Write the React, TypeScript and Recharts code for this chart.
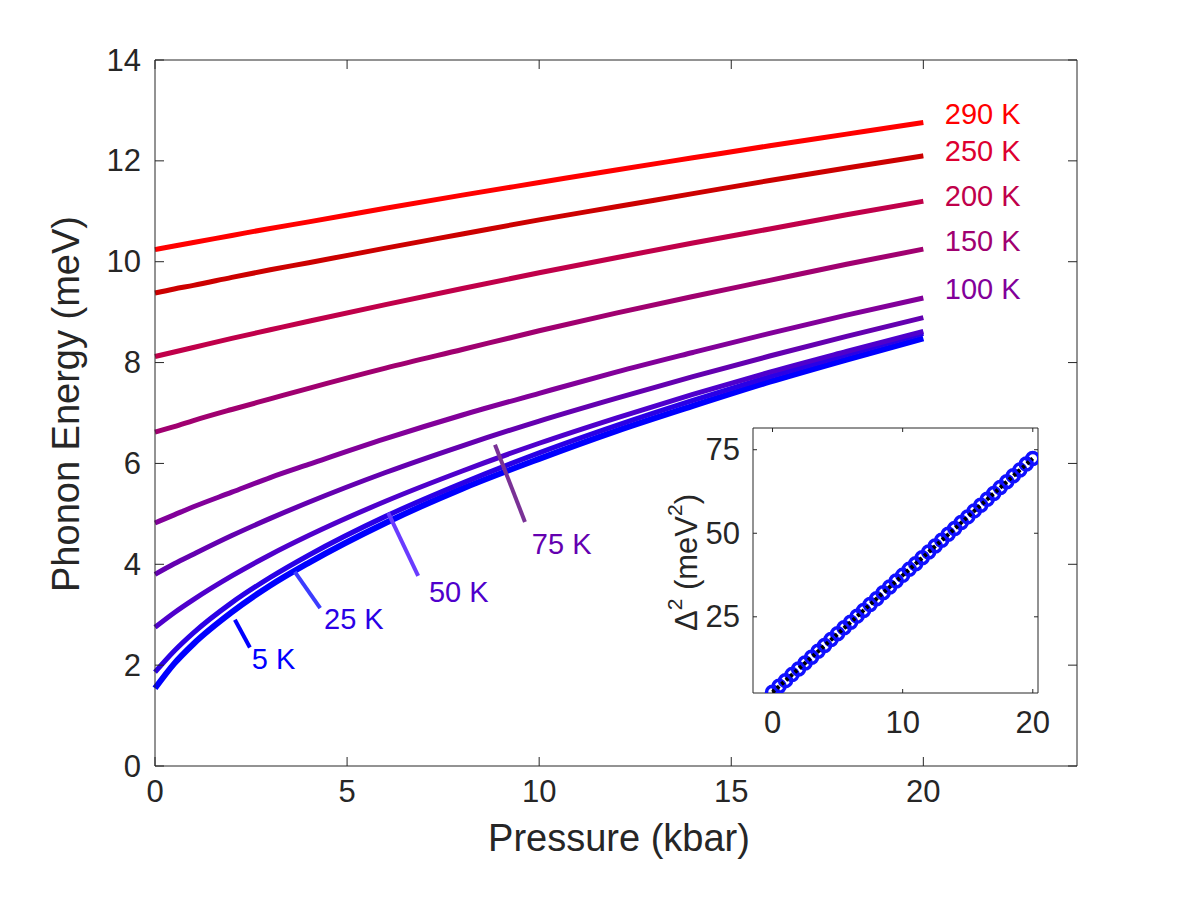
import React from "react";
import {
  LineChart,
  Line,
  XAxis,
  YAxis,
  ReferenceLine,
  ReferenceDot,
} from "recharts";

// pressure grid (kbar) shared by all temperature curves
const pressure = [0, 0.5, 1, 2, 3, 4, 6, 8, 10, 12, 14, 16, 18, 20];

// phonon energy (meV) per temperature
const e5K = [1.54, 2.03, 2.42, 3.05, 3.58, 4.03, 4.82, 5.5, 6.09, 6.64, 7.14, 7.62, 8.06, 8.48];
const e25K = [1.86, 2.28, 2.64, 3.24, 3.74, 4.18, 4.95, 5.61, 6.21, 6.75, 7.25, 7.72, 8.16, 8.58];
const e50K = [2.75, 3.04, 3.3, 3.77, 4.19, 4.57, 5.25, 5.85, 6.4, 6.9, 7.37, 7.81, 8.22, 8.62];
const e75K = [3.8, 4.01, 4.2, 4.57, 4.91, 5.23, 5.82, 6.35, 6.84, 7.29, 7.72, 8.13, 8.52, 8.89];
const e100K = [4.82, 4.98, 5.14, 5.43, 5.72, 5.98, 6.49, 6.96, 7.39, 7.81, 8.2, 8.58, 8.94, 9.28];
const e150K = [6.62, 6.73, 6.85, 7.07, 7.28, 7.49, 7.89, 8.26, 8.63, 8.98, 9.31, 9.63, 9.95, 10.25];
const e200K = [8.12, 8.21, 8.3, 8.48, 8.65, 8.82, 9.15, 9.47, 9.78, 10.08, 10.37, 10.65, 10.93, 11.2];
const e250K = [9.38, 9.46, 9.53, 9.69, 9.84, 9.98, 10.27, 10.55, 10.83, 11.09, 11.35, 11.61, 11.86, 12.1];
const e290K = [10.24, 10.31, 10.38, 10.52, 10.66, 10.79, 11.06, 11.32, 11.57, 11.82, 12.06, 12.3, 12.53, 12.76];

const xTicks = [0, 5, 10, 15, 20];
const yTicks = [0, 2, 4, 6, 8, 10, 12, 14];

// inset: delta^2 vs pressure (5 K data) and its linear fit
const insetP = [
  0, 0.5, 1, 1.5, 2, 2.5, 3, 3.5, 4, 4.5, 5, 5.5, 6, 6.5, 7, 7.5, 8, 8.5, 9, 9.5, 10,
  10.5, 11, 11.5, 12, 12.5, 13, 13.5, 14, 14.5, 15, 15.5, 16, 16.5, 17, 17.5, 18, 18.5, 19, 19.5, 20,
];
const insetD2 = [
  2.4, 4.2, 5.9, 7.7, 9.4, 11.2, 12.9, 14.7, 16.4, 18.2, 19.9, 21.7, 23.4, 25.2, 26.9, 28.7, 30.4,
  32.2, 33.9, 35.7, 37.4, 39.2, 40.9, 42.7, 44.4, 46.2, 47.9, 49.7, 51.4, 53.2, 54.9, 56.7, 58.4,
  60.2, 61.9, 63.7, 65.4, 67.2, 68.9, 70.7, 72.4,
];
const fitP = [0, 10, 20];
const fitD2 = [2.4, 37.4, 72.4];
const insetXTicks = [0, 10, 20];
const insetYTicks = [25, 50, 75];
const insetXDomain = [-1.5, 20.4];
const insetYDomain = [2.2, 81.5];

const series = [
  { key: "t5", values: e5K, color: "#0000ff", width: 6 },
  { key: "t25", values: e25K, color: "#2a00e6", width: 5 },
  { key: "t50", values: e50K, color: "#4f00cc", width: 5 },
  { key: "t75", values: e75K, color: "#6400b0", width: 5 },
  { key: "t100", values: e100K, color: "#82009a", width: 5 },
  { key: "t150", values: e150K, color: "#a00070", width: 5 },
  { key: "t200", values: e200K, color: "#c0004a", width: 5 },
  { key: "t250", values: e250K, color: "#cc0000", width: 5 },
  { key: "t290", values: e290K, color: "#ff0000", width: 5 },
];

// text labels, placed in data units
const tempLabels = [
  { text: "290 K", p: 20.56, e: 12.93, color: "#ff0000" },
  { text: "250 K", p: 20.56, e: 12.2, color: "#dd0030" },
  { text: "200 K", p: 20.56, e: 11.31, color: "#c0004a" },
  { text: "150 K", p: 20.56, e: 10.41, color: "#a00070" },
  { text: "100 K", p: 20.56, e: 9.46, color: "#82009a" },
  { text: "75 K", p: 9.81, e: 4.4, color: "#6400b0" },
  { text: "50 K", p: 7.13, e: 3.46, color: "#4f00cc" },
  { text: "25 K", p: 4.4, e: 2.91, color: "#2a00e6" },
  { text: "5 K", p: 2.52, e: 2.12, color: "#0000ff" },
];
const leaders = [
  { from: [2.08, 2.9], to: [2.47, 2.35], color: "#0000ff" },
  { from: [3.64, 3.85], to: [4.3, 3.13], color: "#3c3cff" },
  { from: [6.07, 5.02], to: [6.85, 3.77], color: "#6a3cff" },
  { from: [8.85, 6.37], to: [9.63, 4.84], color: "#7a3296" },
];

const mainData = pressure.map((p, i) => {
  const row: any = { p };
  series.forEach((s) => (row[s.key] = s.values[i]));
  return row;
});
const insetData = insetP.map((p, i) => ({ p, d2: insetD2[i] }));
const fitData = fitP.map((p, i) => ({ p, fit: fitD2[i] }));

const FONT = "'Liberation Sans', Arial, Helvetica, sans-serif";
const AX = "#262626";

// main axes box in page pixels
const M = { left: 155, top: 60, right: 1077, bottom: 766 };
// inset chart placement
const INSET = { left: 640, top: 400, width: 420, height: 350 };
const IB = { left: 113, top: 28, right: 398, bottom: 293 };

const MainXTick = (props: any) => {
  const { x, y, payload } = props;
  return (
    <g>
      <line x1={x} x2={x} y1={y} y2={y - 9} stroke={AX} />
      <line x1={x} x2={x} y1={M.top} y2={M.top + 9} stroke={AX} />
      <text x={x} y={y + 25} textAnchor="middle" dominantBaseline="central" fontSize={31} fill={AX} fontFamily={FONT}>
        {payload.value}
      </text>
    </g>
  );
};

const MainYTick = (props: any) => {
  const { x, y, payload } = props;
  return (
    <g>
      <line x1={x} x2={x + 9} y1={y} y2={y} stroke={AX} />
      <line x1={M.right - 9} x2={M.right} y1={y} y2={y} stroke={AX} />
      <text x={x - 14} y={y} textAnchor="end" dominantBaseline="central" fontSize={31} fill={AX} fontFamily={FONT}>
        {payload.value}
      </text>
    </g>
  );
};

const InsetXTick = (props: any) => {
  const { x, y, payload } = props;
  return (
    <g>
      <line x1={x} x2={x} y1={y} y2={y - 4} stroke={AX} />
      <line x1={x} x2={x} y1={IB.top} y2={IB.top + 4} stroke={AX} />
      <text x={x} y={y + 29} textAnchor="middle" dominantBaseline="central" fontSize={31} fill={AX} fontFamily={FONT}>
        {payload.value}
      </text>
    </g>
  );
};

const InsetYTick = (props: any) => {
  const { x, y, payload } = props;
  return (
    <g>
      <line x1={x} x2={x + 4} y1={y} y2={y} stroke={AX} />
      <line x1={IB.right - 4} x2={IB.right} y1={y} y2={y} stroke={AX} />
      <text x={x - 13} y={y} textAnchor="end" dominantBaseline="central" fontSize={31} fill={AX} fontFamily={FONT}>
        {payload.value}
      </text>
    </g>
  );
};

const XTitle = (props: any) => {
  const vb = props.viewBox;
  return (
    <text x={vb.x + vb.width / 2 + 3} y={vb.y + 72} textAnchor="middle" dominantBaseline="central" fontSize={38} fill={AX} fontFamily={FONT}>
      Pressure (kbar)
    </text>
  );
};

const YTitle = (props: any) => {
  const vb = props.viewBox;
  const cx = 66;
  const cy = vb.y + vb.height / 2 - 9;
  return (
    <text x={cx} y={cy} transform={`rotate(-90 ${cx} ${cy})`} textAnchor="middle" dominantBaseline="central" fontSize={38} fill={AX} fontFamily={FONT}>
      Phonon Energy (meV)
    </text>
  );
};

const InsetYTitle = (props: any) => {
  const vb = props.viewBox;
  const cx = 46;
  const cy = vb.y + vb.height / 2 + 2;
  return (
    <text x={cx} y={cy} transform={`rotate(-90 ${cx} ${cy})`} textAnchor="middle" dominantBaseline="central" fontSize={31} fill={AX} fontFamily={FONT}>
      Δ<tspan dy={-12} fontSize={21}>2</tspan>
      <tspan dy={12}> (meV</tspan>
      <tspan dy={-12} fontSize={21}>2</tspan>
      <tspan dy={12}>)</tspan>
    </text>
  );
};

const LabelText = (color: string, text: string) => (props: any) => (
  <text x={props.cx} y={props.cy} textAnchor="start" dominantBaseline="central" fontSize={29} fill={color} fontFamily={FONT}>
    {text}
  </text>
);

export default function App() {
  const insetPos: React.CSSProperties = { position: "absolute", left: INSET.left, top: INSET.top };
  return (
    <div style={{ position: "absolute", left: 0, top: 0, width: 1200, height: 900, background: "#fff" }}>
      <div style={{ position: "absolute", left: 0, top: 0 }}>
        <LineChart
          width={1200}
          height={900}
          data={mainData}
          margin={{ top: M.top, right: 1200 - M.right, left: 0, bottom: 0 }}
        >
          <XAxis
            dataKey="p"
            type="number"
            domain={[0, 24]}
            ticks={xTicks}
            height={900 - M.bottom}
            tickSize={0}
            tickMargin={0}
            tickLine={false}
            tick={<MainXTick />}
            axisLine={{ stroke: AX }}
            label={<XTitle />}
          />
          <YAxis
            type="number"
            domain={[0, 14]}
            ticks={yTicks}
            width={M.left}
            tickSize={0}
            tickMargin={0}
            tickLine={false}
            tick={<MainYTick />}
            axisLine={{ stroke: AX }}
            label={<YTitle />}
          />
          <ReferenceLine y={14} stroke={AX} ifOverflow="visible" />
          <ReferenceLine x={24} stroke={AX} ifOverflow="visible" />
          {series.map((s) => (
            <Line
              key={s.key}
              dataKey={s.key}
              type="monotone"
              stroke={s.color}
              strokeWidth={s.width}
              dot={false}
              activeDot={false}
              isAnimationActive={false}
            />
          ))}
          {leaders.map((l, i) => (
            <ReferenceLine
              key={"ld" + i}
              segment={[
                { x: l.from[0], y: l.from[1] },
                { x: l.to[0], y: l.to[1] },
              ]}
              stroke={l.color}
              strokeWidth={4}
              ifOverflow="visible"
            />
          ))}
          {tempLabels.map((t) => (
            <ReferenceDot
              key={t.text}
              x={t.p}
              y={t.e}
              r={0}
              ifOverflow="visible"
              shape={LabelText(t.color, t.text)}
            />
          ))}
        </LineChart>
      </div>
      {/* inset: axes + measured points */}
      <div style={insetPos}>
        <LineChart
          width={INSET.width}
          height={INSET.height}
          data={insetData}
          margin={{ top: IB.top, right: INSET.width - IB.right, left: 0, bottom: 0 }}
        >
          <XAxis
            dataKey="p"
            type="number"
            domain={insetXDomain}
            ticks={insetXTicks}
            allowDataOverflow
            height={INSET.height - IB.bottom}
            tickSize={0}
            tickMargin={0}
            tickLine={false}
            tick={<InsetXTick />}
            axisLine={{ stroke: AX }}
          />
          <YAxis
            type="number"
            domain={insetYDomain}
            ticks={insetYTicks}
            allowDataOverflow
            width={IB.left}
            tickSize={0}
            tickMargin={0}
            tickLine={false}
            tick={<InsetYTick />}
            axisLine={{ stroke: AX }}
            label={<InsetYTitle />}
          />
          <ReferenceLine y={81.5} stroke={AX} ifOverflow="visible" />
          <ReferenceLine x={20.4} stroke={AX} ifOverflow="visible" />
          <Line
            dataKey="d2"
            stroke="none"
            dot={{ r: 6, stroke: "#1010ff", strokeWidth: 3.5, fill: "none" }}
            activeDot={false}
            isAnimationActive={false}
          />
        </LineChart>
      </div>
      {/* inset: dotted fit drawn on top of the points */}
      <div style={insetPos}>
        <LineChart
          width={INSET.width}
          height={INSET.height}
          data={fitData}
          margin={{
            top: IB.top,
            right: INSET.width - IB.right,
            left: IB.left,
            bottom: INSET.height - IB.bottom,
          }}
        >
          <XAxis dataKey="p" type="number" domain={insetXDomain} allowDataOverflow hide />
          <YAxis type="number" domain={insetYDomain} allowDataOverflow hide />
          <Line
            dataKey="fit"
            type="linear"
            stroke="#000000"
            strokeWidth={4}
            strokeDasharray="3 3"
            dot={false}
            activeDot={false}
            isAnimationActive={false}
          />
        </LineChart>
      </div>
    </div>
  );
}
